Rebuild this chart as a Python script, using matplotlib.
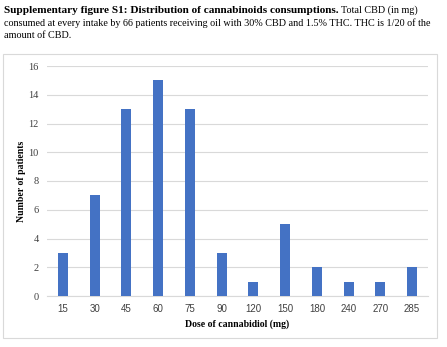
import matplotlib
matplotlib.use("Agg")
import matplotlib.pyplot as plt
from matplotlib.patches import Rectangle

doses = ["15", "30", "45", "60", "75", "90", "120", "150", "180", "240", "270", "285"]
patients = [3, 7, 13, 15, 13, 3, 1, 5, 2, 1, 1, 2]
yticks = [0, 2, 4, 6, 8, 10, 12, 14, 16]

W, H = 447, 347
fig = plt.figure(figsize=(W/100, H/100), dpi=100)
serif = "Liberation Serif"
sans = "Liberation Sans"

# chart frame
fig.patches.append(Rectangle((3/W, 1-338/H), 434/W, (338-54)/H, transform=fig.transFigure,
                             fill=False, edgecolor="#d9d9d9", linewidth=0.8))

ax = fig.add_axes([47/W, 1-296/H, (428-47)/W, (296-66)/H])
x = list(range(len(doses)))
ax.bar(x, patients, width=0.31, color="#4472C4", zorder=3)
ax.set_xlim(-0.5, len(doses)-0.5)
ax.set_ylim(0, 16)
ax.set_yticks(yticks)
ax.set_yticklabels([str(v) for v in yticks], fontfamily=serif, fontsize=7.5, color="#404040")
ax.set_xticks(x)
ax.set_xticklabels(doses, fontfamily=sans, fontsize=7, color="#404040")
ax.tick_params(axis="x", length=0, pad=5.5)
ax.tick_params(axis="y", length=0, pad=6)
ax.grid(axis="y", color="#d9d9d9", linewidth=0.8, zorder=0)
for s in ["top", "right", "left"]:
    ax.spines[s].set_visible(False)
ax.spines["bottom"].set_color("#d9d9d9")
ax.set_ylabel("Number of patients", fontfamily=serif, fontweight="bold", fontsize=7, labelpad=2)
ax.set_xlabel("Dose of cannabidiol (mg)", fontfamily=serif, fontweight="bold", fontsize=7, labelpad=4)

# title text
fsb = 8.1
fs = 7.3
t1 = fig.text(4/W, 1-13/H, "Supplementary figure S1: Distribution of cannabinoids consumptions.",
              fontfamily=serif, fontweight="bold", fontsize=fsb, ha="left", va="baseline")
fig.canvas.draw()
bb = t1.get_window_extent()
fig.text((bb.x1 + 2)/W, 1-13/H, "Total CBD (in mg)", fontfamily=serif, fontsize=fs,
         ha="left", va="baseline")
fig.text(4/W, 1-26/H, "consumed at every intake by 66 patients receiving oil with 30% CBD and 1.5% THC. THC is 1/20 of the",
         fontfamily=serif, fontsize=fs, ha="left", va="baseline")
fig.text(4/W, 1-38.5/H, "amount of CBD.", fontfamily=serif, fontsize=fs, ha="left", va="baseline")

fig.savefig("out.png", dpi=100)
